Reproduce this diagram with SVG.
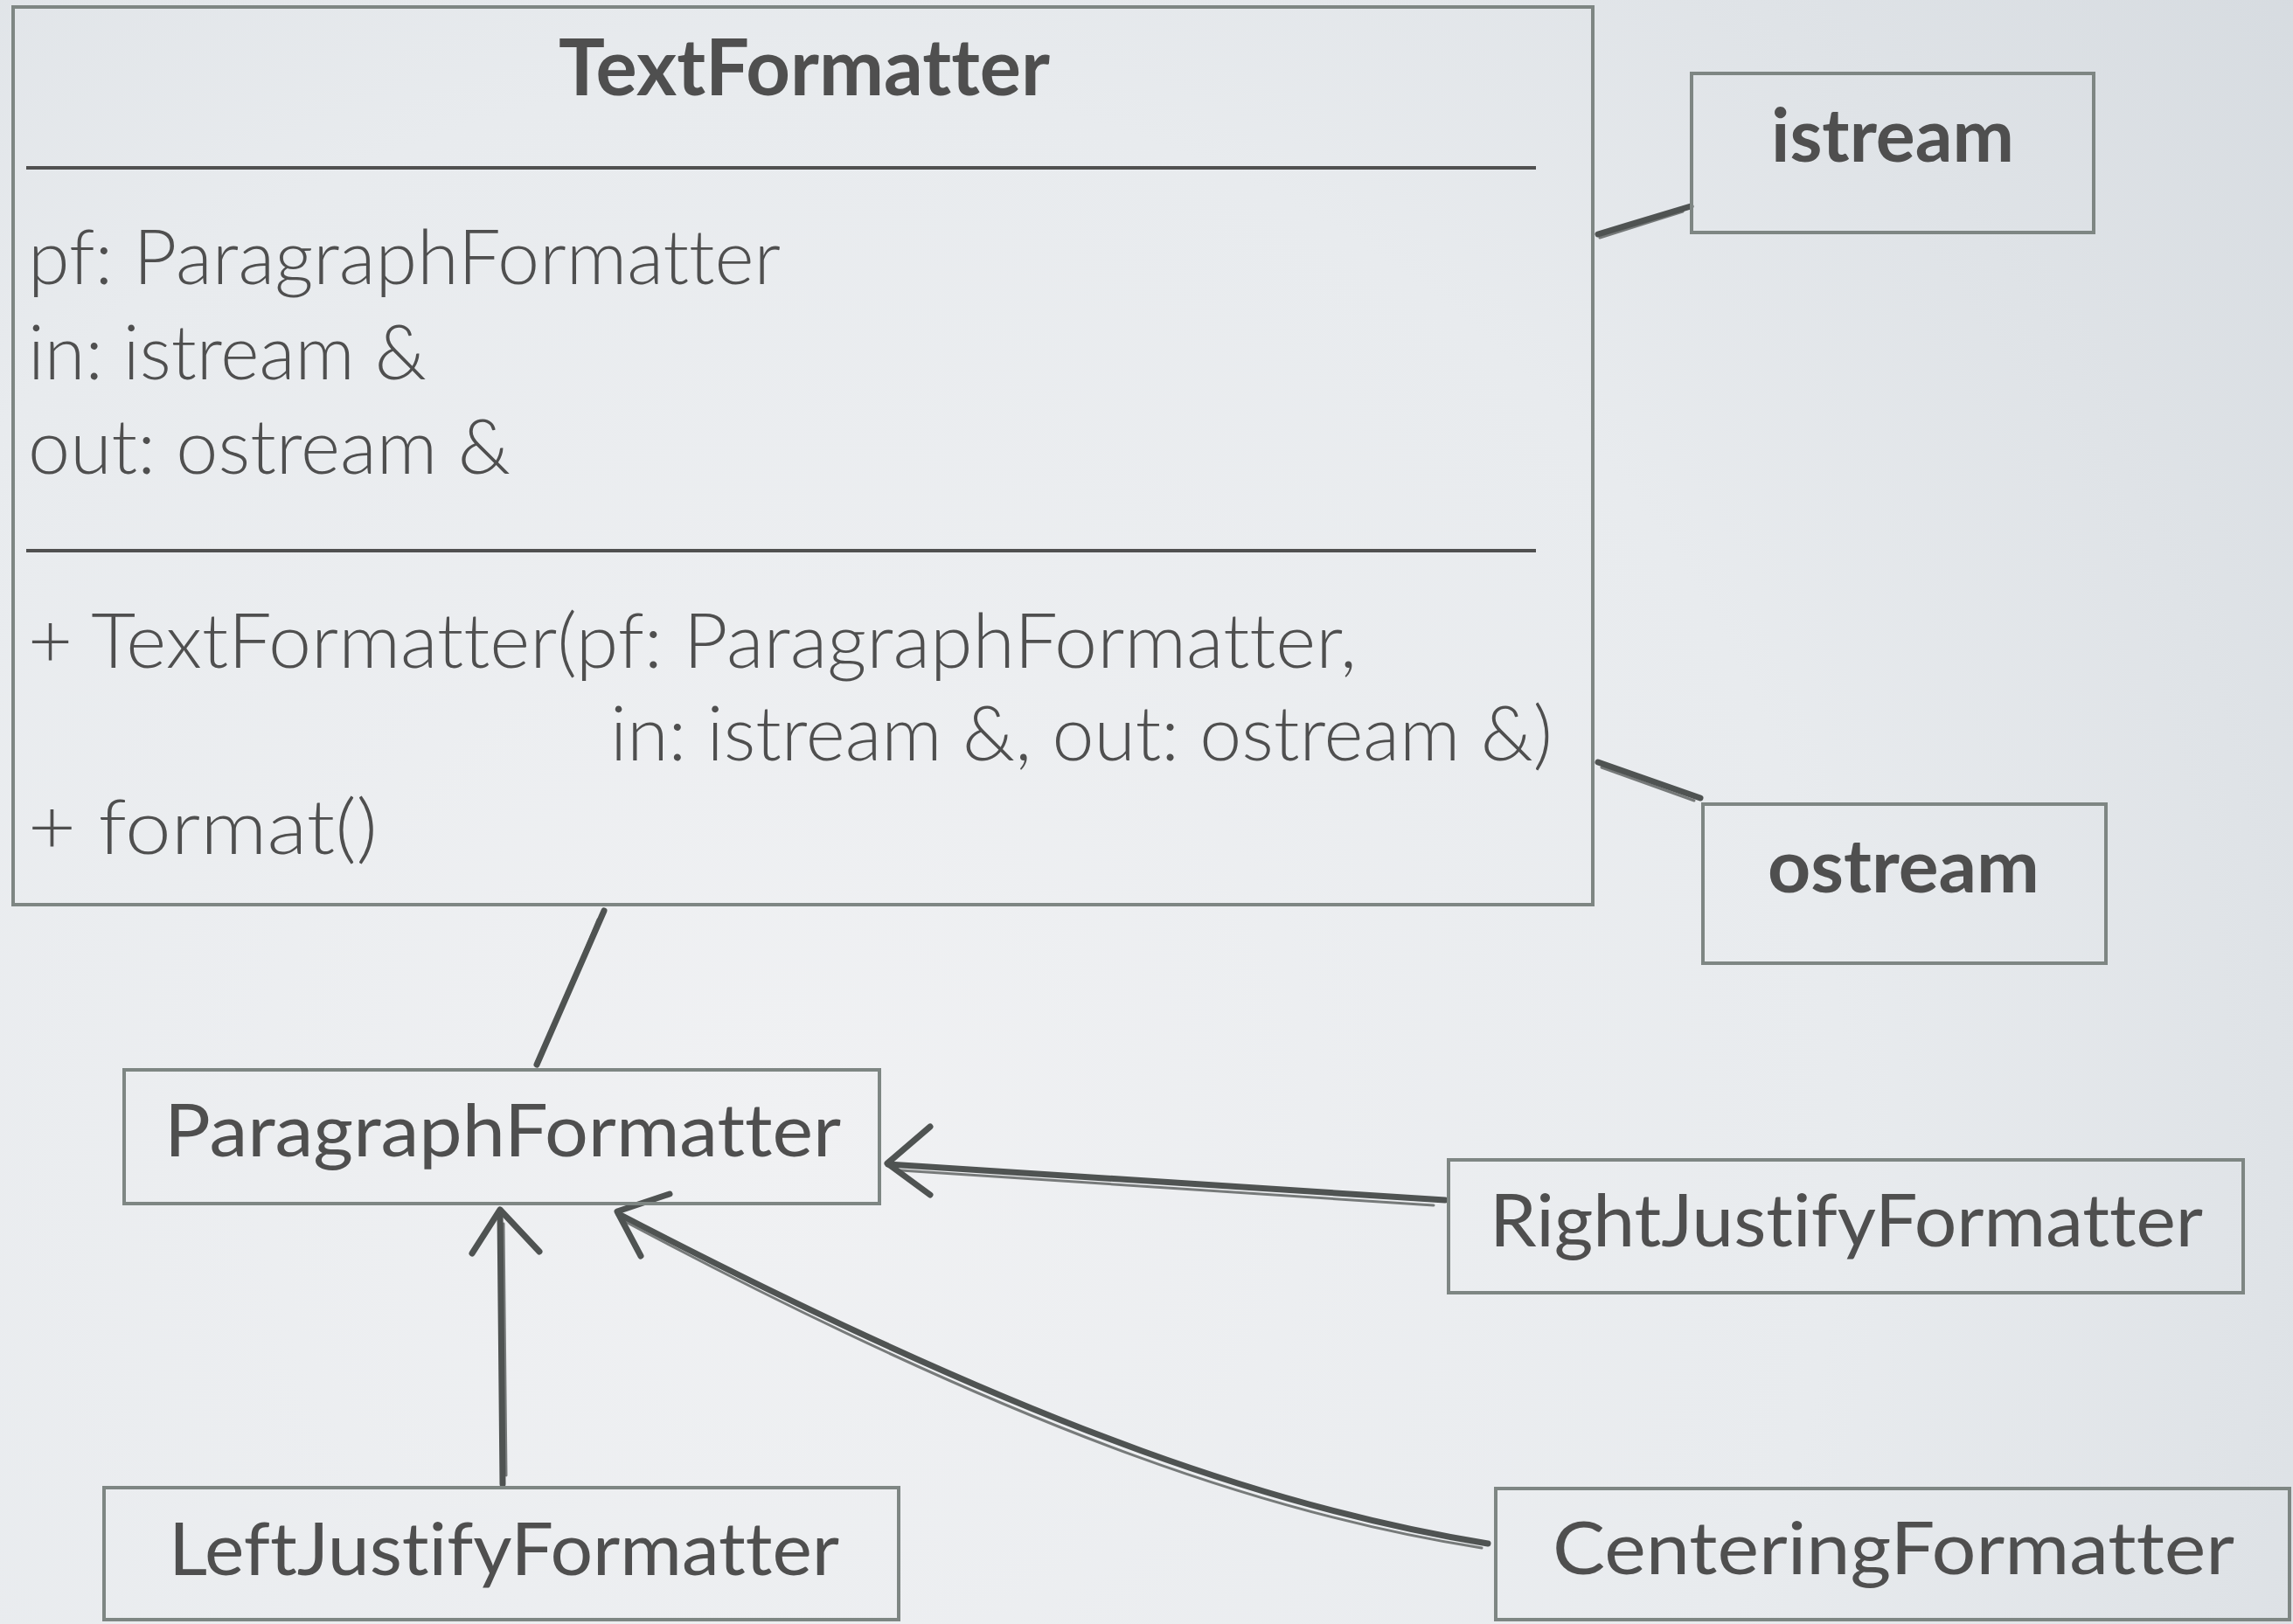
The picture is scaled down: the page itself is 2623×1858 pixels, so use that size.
<svg xmlns="http://www.w3.org/2000/svg" width="2623" height="1858" viewBox="0 0 2623 1858">
<defs>
<radialGradient id="bg" cx="900" cy="1300" r="2200" gradientUnits="userSpaceOnUse">
<stop offset="0" stop-color="#f0f1f3"/>
<stop offset="0.55" stop-color="#e8ebee"/>
<stop offset="1" stop-color="#d6dbe0"/>
</radialGradient>
<style>
.box{fill:none;stroke:#7e8683;stroke-width:4}
.sep{stroke:#505050;stroke-width:4}
.t{font-family:Lato,"Open Sans","Liberation Sans",sans-serif;fill:#4f4f4f;font-variant-ligatures:none;font-feature-settings:"liga" 0}
.title{font-size:90px;font-weight:700}
.light{font-size:86px;font-weight:300}
.name{font-size:84px;font-weight:400}
.bold{font-size:84px;font-weight:700}
.c{fill:none;stroke:#4f5352;stroke-linecap:round;stroke-linejoin:round}
.c1{stroke-width:7}
.c2{stroke-width:3;opacity:0.75}
</style>
</defs>
<rect x="0" y="0" width="2623" height="1858" fill="url(#bg)"/>

<g id="connectors">
<!-- TextFormatter to istream -->
<path class="c c1" d="M1934,236 L1828,268"/>
<path class="c c2" d="M1925,242 L1830,272"/>
<!-- TextFormatter to ostream -->
<path class="c c1" d="M1828,872 L1945,913"/>
<path class="c c2" d="M1832,878 L1938,916"/>
<!-- TextFormatter to ParagraphFormatter -->
<path class="c c1" d="M691,1042 L614,1218"/>
<path class="c c2" d="M684,1052 L619,1210"/>
<!-- LeftJustify to ParagraphFormatter -->
<path class="c c1" d="M575,1698 L572,1386"/>
<path class="c c2" d="M579,1688 L576,1400"/>
<path class="c c1" d="M540,1434 L572,1384 L617,1432"/>
<!-- RightJustify to ParagraphFormatter -->
<path class="c c1" d="M1653,1373 L1016,1332"/>
<path class="c c2" d="M1640,1379 L1030,1339"/>
<path class="c c1" d="M1064,1289 L1015,1331 L1064,1367"/>
<!-- Centering to ParagraphFormatter -->
<path class="c c1" d="M1702,1766 C1480,1730 1200,1645 708,1389"/>
<path class="c c2" d="M1695,1771 C1470,1736 1190,1650 712,1396"/>
<path class="c c1" d="M766,1366 L706,1386 L733,1437"/>
</g>

<g id="TextFormatter">
<rect class="box" x="15" y="8" width="1807" height="1027"/>
<text class="t title" x="639" y="109" textLength="562" lengthAdjust="spacingAndGlyphs">TextFormatter</text>
<line class="sep" x1="30" y1="192" x2="1757" y2="192"/>
<text class="t light" x="32" y="325" textLength="861" lengthAdjust="spacingAndGlyphs">pf: ParagraphFormatter</text>
<text class="t light" x="32" y="434" textLength="456" lengthAdjust="spacingAndGlyphs">in: istream &amp;</text>
<text class="t light" x="32" y="542" textLength="552" lengthAdjust="spacingAndGlyphs">out: ostream &amp;</text>
<line class="sep" x1="30" y1="630" x2="1757" y2="630"/>
<text class="t light" x="32" y="764" textLength="1520" lengthAdjust="spacingAndGlyphs">+ TextFormatter(pf: ParagraphFormatter,</text>
<text class="t light" x="698" y="870" textLength="1078" lengthAdjust="spacingAndGlyphs">in: istream &amp;, out: ostream &amp;)</text>
<text class="t light" x="32" y="977" textLength="400" lengthAdjust="spacingAndGlyphs">+ format()</text>
</g>

<g id="istream">
<rect class="box" x="1935" y="84" width="460" height="182"/>
<text class="t bold" x="2026" y="185" textLength="278" lengthAdjust="spacingAndGlyphs">istream</text>
</g>

<g id="ostream">
<rect class="box" x="1948" y="920" width="461" height="182"/>
<text class="t bold" x="2022" y="1021" textLength="311" lengthAdjust="spacingAndGlyphs">ostream</text>
</g>

<g id="ParagraphFormatter">
<rect class="box" x="142" y="1224" width="864" height="153"/>
<text class="t name" x="188" y="1323" textLength="774" lengthAdjust="spacingAndGlyphs">ParagraphFormatter</text>
</g>

<g id="RightJustifyFormatter">
<rect class="box" x="1657" y="1327" width="909" height="152"/>
<text class="t name" x="1704" y="1426" textLength="816" lengthAdjust="spacingAndGlyphs">RightJustifyFormatter</text>
</g>

<g id="LeftJustifyFormatter">
<rect class="box" x="119" y="1702" width="909" height="151"/>
<text class="t name" x="193" y="1802" textLength="767" lengthAdjust="spacingAndGlyphs">LeftJustifyFormatter</text>
</g>

<g id="CenteringFormatter">
<rect class="box" x="1711" y="1703" width="908" height="150"/>
<text class="t name" x="1776" y="1801" textLength="780" lengthAdjust="spacingAndGlyphs">CenteringFormatter</text>
</g>
</svg>
